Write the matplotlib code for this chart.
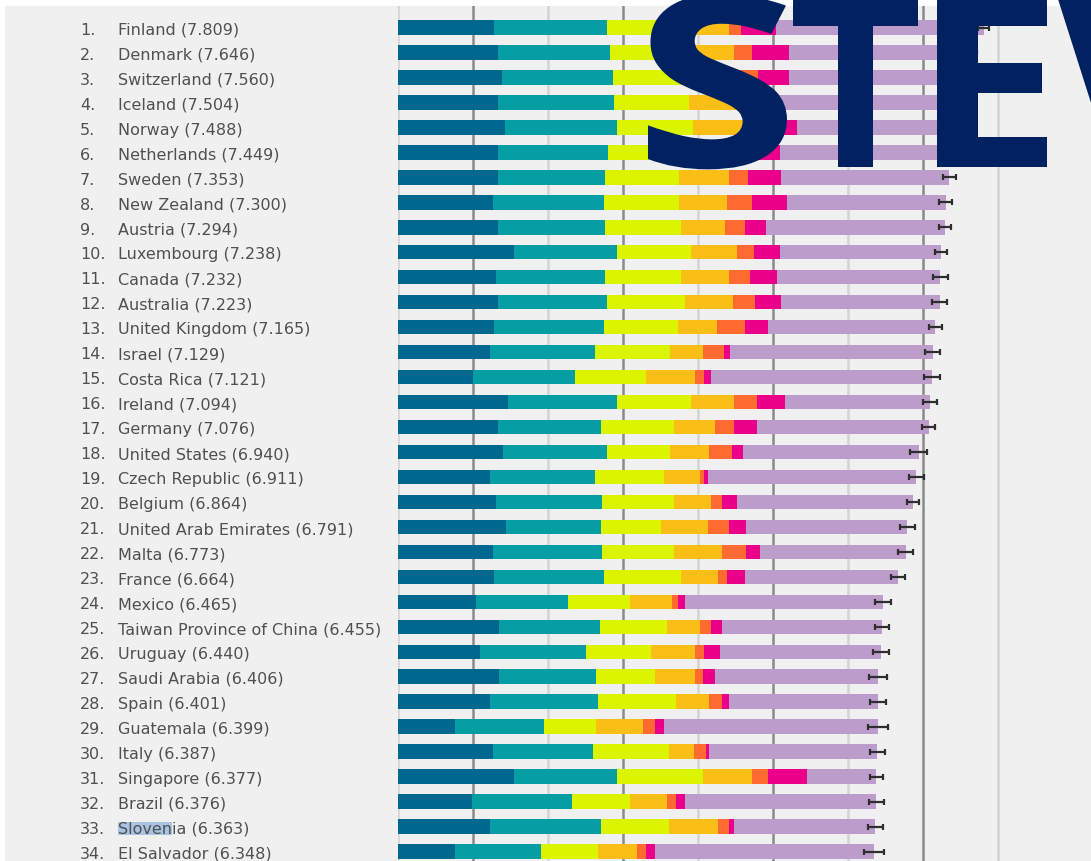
import numpy as np
import matplotlib.pyplot as plt
from matplotlib.patches import Rectangle, PathPatch
from matplotlib.textpath import TextPath
from matplotlib.font_manager import FontProperties
from matplotlib.transforms import Affine2D

W, H = 1091, 862

countries = ['Finland', 'Denmark', 'Switzerland', 'Iceland', 'Norway', 'Netherlands',
             'Sweden', 'New Zealand', 'Austria', 'Luxembourg', 'Canada', 'Australia',
             'United Kingdom', 'Israel', 'Costa Rica', 'Ireland', 'Germany', 'United States',
             'Czech Republic', 'Belgium', 'United Arab Emirates', 'Malta', 'France', 'Mexico',
             'Taiwan Province of China', 'Uruguay', 'Saudi Arabia', 'Spain', 'Guatemala',
             'Italy', 'Singapore', 'Brazil', 'Slovenia', 'El Salvador']
scores = [7.809, 7.646, 7.560, 7.504, 7.488, 7.449, 7.353, 7.300, 7.294, 7.238, 7.232,
          7.223, 7.165, 7.129, 7.121, 7.094, 7.076, 6.940, 6.911, 6.864, 6.791, 6.773,
          6.664, 6.465, 6.455, 6.440, 6.406, 6.401, 6.399, 6.387, 6.377, 6.376, 6.363, 6.348]

# explained by: GDP, social support, healthy life, freedom, generosity, corruption
gdp = [1.285, 1.327, 1.391, 1.327, 1.424, 1.339, 1.33, 1.26, 1.33, 1.54, 1.30, 1.33,
       1.28, 1.23, 1.00, 1.47, 1.33, 1.40, 1.23, 1.30, 1.44, 1.26, 1.28, 1.04, 1.35,
       1.09, 1.35, 1.23, 0.76, 1.26, 1.54, 0.98, 1.23, 0.76]
social = [1.500, 1.503, 1.472, 1.548, 1.495, 1.464, 1.43, 1.48, 1.43, 1.38, 1.46, 1.46,
          1.46, 1.39, 1.36, 1.45, 1.37, 1.39, 1.39, 1.42, 1.26, 1.46, 1.46, 1.23, 1.34,
          1.41, 1.29, 1.44, 1.18, 1.34, 1.38, 1.34, 1.47, 1.15]
health = [0.961, 0.979, 1.041, 1.001, 1.008, 0.976, 0.99, 1.01, 1.01, 0.99, 1.01, 1.03,
          0.99, 1.01, 0.94, 0.99, 0.98, 0.84, 0.92, 0.96, 0.80, 0.96, 1.03, 0.82, 0.90,
          0.87, 0.78, 1.03, 0.70, 1.01, 1.14, 0.77, 0.91, 0.76]
freedom = [0.662, 0.665, 0.629, 0.662, 0.670, 0.614, 0.66, 0.63, 0.59, 0.61, 0.64, 0.64,
           0.52, 0.43, 0.66, 0.57, 0.54, 0.52, 0.49, 0.49, 0.63, 0.64, 0.50, 0.56, 0.44,
           0.59, 0.54, 0.45, 0.62, 0.33, 0.66, 0.50, 0.66, 0.51]
generosity = [0.160, 0.243, 0.269, 0.362, 0.287, 0.336, 0.26, 0.34, 0.26, 0.22, 0.28, 0.30,
              0.37, 0.28, 0.12, 0.31, 0.26, 0.30, 0.05, 0.15, 0.28, 0.32, 0.12, 0.08, 0.14,
              0.12, 0.10, 0.17, 0.16, 0.16, 0.21, 0.12, 0.14, 0.12]
corruption = [0.478, 0.495, 0.408, 0.145, 0.434, 0.369, 0.44, 0.47, 0.28, 0.35, 0.36, 0.35,
              0.31, 0.09, 0.09, 0.37, 0.31, 0.15, 0.05, 0.20, 0.23, 0.19, 0.23, 0.09, 0.15,
              0.21, 0.16, 0.09, 0.12, 0.05, 0.52, 0.11, 0.07, 0.12]
err = [0.07, 0.07, 0.07, 0.07, 0.07, 0.07, 0.09, 0.09, 0.08, 0.08, 0.10, 0.10, 0.09, 0.10,
       0.11, 0.09, 0.09, 0.11, 0.10, 0.08, 0.10, 0.10, 0.09, 0.11, 0.09, 0.11, 0.12, 0.11,
       0.13, 0.10, 0.09, 0.10, 0.10, 0.13]

parts = np.array([gdp, social, health, freedom, generosity, corruption])
dystopia = np.array(scores) - parts.sum(axis=0)
parts = np.vstack([parts, dystopia])
colors = ['#00678f', '#079da5', '#dbf500', '#fbbe17', '#ff6a30', '#ea008b', '#bc9cca']

fig = plt.figure(figsize=(W / 100, H / 100), dpi=100)
fig.add_artist(Rectangle((5 / W, 0), 1, (H - 7) / H, transform=fig.transFigure,
                         facecolor='#f0f0f0', edgecolor='none', zorder=0))

ax = fig.add_axes([398 / W, 0, 1 - 398 / W, (H - 7) / H])
ax.patch.set_visible(False)
ax.set_xlim(0, (W - 398) / 75)
row = 24.97
ax.set_ylim((H - 7) / row - 21.5 / row, -21.5 / row)
ax.axis('off')

for g in range(9):
    ax.axvline(g, color='#8a8a8a' if g % 2 else '#d4d4d4', lw=1.8, zorder=1)

y = np.arange(len(countries))
left = np.zeros(len(countries))
for vals, c in zip(parts, colors):
    ax.barh(y, vals, left=left, height=0.58, color=c, edgecolor='none', zorder=2)
    left += vals

ax.errorbar(scores, y, xerr=err, fmt='none', ecolor='#2e2e2e', elinewidth=1.6,
            capsize=2.5, capthick=1.6, zorder=3)

txt = '#505050'
lab = dict(ha='left', va='baseline', fontsize=11.5, color=txt, family='DejaVu Sans',
           clip_on=False, zorder=4)
for i, (name, s) in enumerate(zip(countries, scores)):
    ax.text(-4.24, i + 0.25, f'{i + 1}.', **lab)
    ax.text(-3.733, i + 0.25, f'{name} ({s:.3f})', **lab)

# selection highlight over "Sloven"
k = countries.index('Slovenia')
probe = ax.text(-3.733, k + 0.25, 'Sloven', alpha=0, **lab)
fig.canvas.draw()
bb = probe.get_window_extent()
ax.add_patch(Rectangle((bb.x0 / W, (bb.y0 + 1) / H), bb.width / W, 13 / H,
                       transform=fig.transFigure, facecolor='#a9c4e3', edgecolor='none',
                       clip_on=False, zorder=3))

# big overlay lettering, each letter fitted to its box in the picture
fp = FontProperties(family='Open Sans', weight='bold')
cap = TextPath((0, 0), 'E', size=1, prop=fp).get_extents().y1
sy = 171 / cap
for ch, x0, w in zip('STEV', [648, 793, 937, 1057], [139, 125, 110, 146]):
    p = TextPath((0, 0), ch, size=1, prop=fp)
    e = p.get_extents()
    tr = (Affine2D().translate(-e.x0, 0).scale(w / (e.x1 - e.x0), sy)
          .translate(x0, H - 168).scale(1 / W, 1 / H) + fig.transFigure)
    fig.add_artist(PathPatch(p, transform=tr, facecolor='#022160', edgecolor='none',
                             zorder=10))

fig.savefig('out.png', dpi=100)
